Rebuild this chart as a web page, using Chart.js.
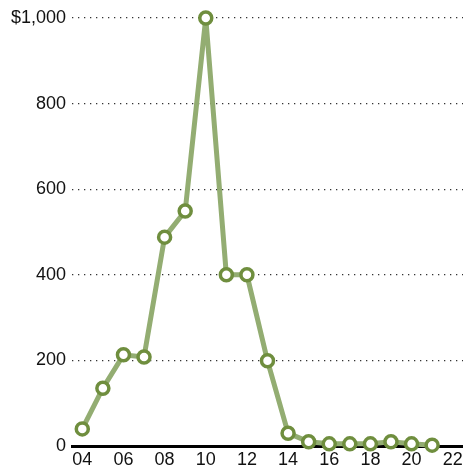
<!DOCTYPE html>
<html>
<head>
<meta charset="utf-8">
<script src="https://cdn.jsdelivr.net/npm/chart.js@4"></script>
<style>
  html, body { margin: 0; padding: 0; background: #fff; }
  #wrap { width: 463px; height: 470px; }
</style>
</head>
<body>
<div id="wrap"><canvas id="chart"></canvas></div>
<script>
// === DATA ===
const years = [4, 5, 6, 7, 8, 9, 10, 11, 12, 13, 14, 15, 16, 17, 18, 19, 20, 21];
const values = [40, 135, 213, 208, 488, 549, 1000, 400, 400, 199, 30, 10, 5, 5, 5, 10, 5, 2];
const xTicks = [4, 6, 8, 10, 12, 14, 16, 18, 20, 22];
const yTicks = [0, 200, 400, 600, 800, 1000];

const points = years.map((y, i) => ({ x: y, y: values[i] }));

Chart.defaults.font.family = "'Liberation Sans', Arial, sans-serif";
Chart.defaults.font.size = 18;
Chart.defaults.color = '#111';

new Chart(document.getElementById('chart'), {
    type: 'line',
    data: {
        datasets: [{
            data: points,
            borderColor: '#93ad72',
            borderWidth: 5,
            pointRadius: 6,
            pointBorderWidth: 3.5,
            pointBorderColor: '#6f8e3e',
            pointBackgroundColor: '#fff',
            tension: 0,
            clip: false
        }]
    },
    options: {
        responsive: true,
        maintainAspectRatio: false,
        animation: false,
        layout: { autoPadding: false, padding: { top: 18, right: 0, bottom: 0, left: 0 } },
        plugins: { legend: { display: false }, tooltip: { enabled: false } },
        scales: {
            x: {
                type: 'linear',
                min: 3.5,
                max: 22.5,
                afterBuildTicks: s => { s.ticks = xTicks.map(v => ({ value: v })); },
                afterFit: s => { s.height = 24; s.paddingLeft = 0; s.paddingRight = 0; },
                grid: { display: false, drawTicks: false },
                border: { display: true, color: '#000', width: 3 },
                ticks: {
                    padding: 3,
                    maxRotation: 0,
                    autoSkip: false,
                    callback: v => String(v).padStart(2, '0')
                }
            },
            y: {
                min: 0,
                max: 1000,
                afterBuildTicks: s => { s.ticks = yTicks.map(v => ({ value: v })); },
                afterFit: s => { s.width = 72; s.paddingTop = 0; s.paddingBottom = 0; },
                grid: {
                    drawTicks: false,
                    lineWidth: 1.3,
                    color: ctx => ctx.tick && ctx.tick.value === 0 ? 'rgba(0,0,0,0)' : '#333'
                },
                border: { display: false, dash: [1.3, 4.7] },
                ticks: {
                    padding: 6,
                    callback: v => v === 1000 ? '$1,000' : String(v)
                }
            }
        }
    }
});
</script>
</body>
</html>
